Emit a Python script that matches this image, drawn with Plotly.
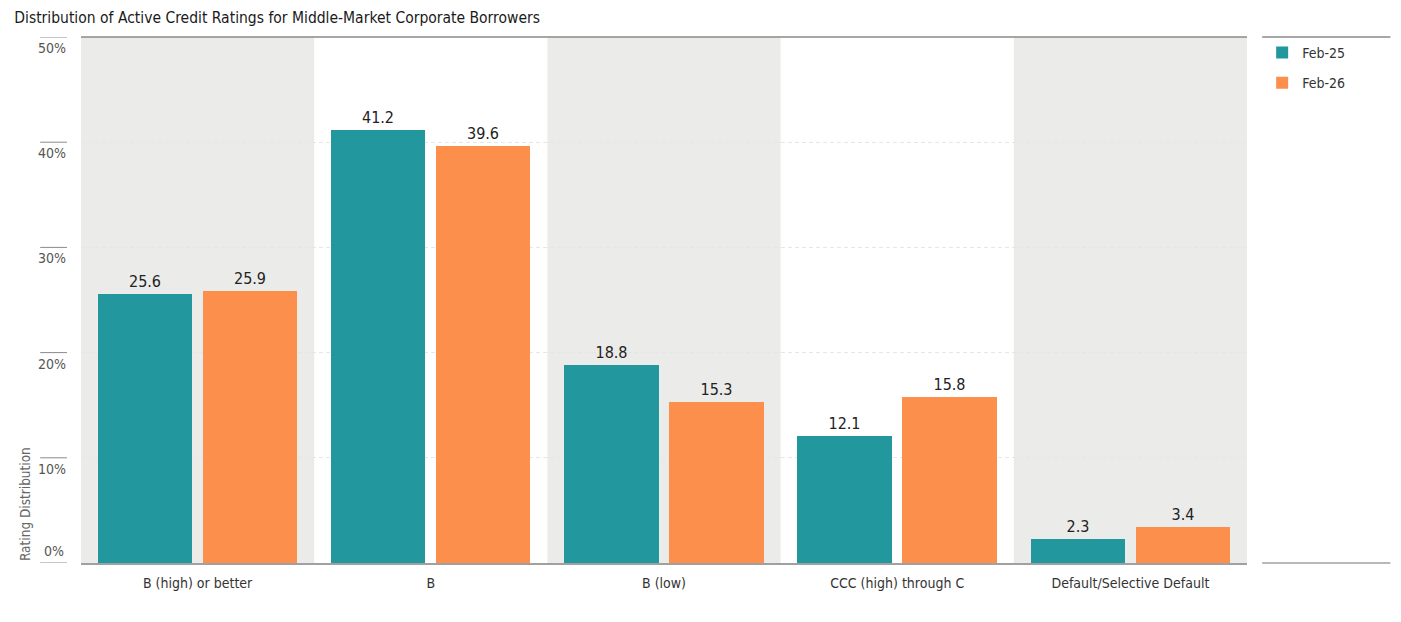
import plotly.graph_objects as go

# data
categories = ["B (high) or better", "B", "B (low)", "CCC (high) through C",
              "Default/Selective Default"]
feb25 = [25.6, 41.2, 18.8, 12.1, 2.3]
feb26 = [25.9, 39.6, 15.3, 15.8, 3.4]
series_names = ["Feb-25", "Feb-26"]
y_ticks = [0, 10, 20, 30, 40, 50]

TEAL = "#23979e"
ORANGE = "#fc8f4c"
BAND = "#ebebea"
FONT = "DejaVu Sans Condensed, Liberation Sans Narrow, sans-serif"

fig = go.Figure()

fig.add_trace(go.Bar(
    x=categories, y=feb25, name=series_names[0], legendgroup="a",
    marker=dict(color=TEAL, line=dict(width=0)),
    width=0.405, offset=-0.428,
    text=[f"{v:.1f}" for v in feb25], textposition="outside",
    textfont=dict(size=16, color="#222222", family=FONT),
    cliponaxis=False,
))
fig.add_trace(go.Bar(
    x=categories, y=feb26, name=series_names[1], legendgroup="b",
    marker=dict(color=ORANGE, line=dict(width=0)),
    width=0.405, offset=0.0225,
    text=[f"{v:.1f}" for v in feb26], textposition="outside",
    textfont=dict(size=16, color="#222222", family=FONT),
    cliponaxis=False,
))

# alternating background bands
shapes = []
for i in range(len(categories)):
    if i % 2 == 0:
        shapes.append(dict(type="rect", xref="x", yref="paper",
                           x0=i - 0.5, x1=i + 0.5, y0=0, y1=1,
                           fillcolor=BAND, line=dict(width=0), layer="between"))

# top rule over plot and legend column
shapes.append(dict(type="line", xref="paper", yref="paper", x0=0, x1=1, y0=1, y1=1,
                   line=dict(color="#8a8a8a", width=1.5)))
shapes.append(dict(type="line", xref="paper", yref="paper", x0=1.013, x1=1.123, y0=1, y1=1,
                   line=dict(color="#8a8a8a", width=1.5)))
shapes.append(dict(type="line", xref="paper", yref="paper", x0=1.013, x1=1.123, y0=0, y1=0,
                   line=dict(color="#a0a0a0", width=1.5)))

# short tick rules at left
for t in y_ticks:
    shapes.append(dict(type="line", xref="paper", yref="y", x0=-0.035, x1=-0.012,
                       y0=t, y1=t, line=dict(color="#8a8a8a", width=1)))

# labels sit under their rule, except 0% which sits above the baseline
tick_text = ["" if t == 0 else f"{t}%" for t in y_ticks]

annotations = [
    dict(text="Rating Distribution", textangle=-90,
         xref="paper", yref="paper", x=-0.048, y=0,
         xanchor="center", yanchor="bottom", showarrow=False,
         font=dict(size=13.5, color="#666666", family=FONT)),
    dict(text=f"{y_ticks[0]}%", xref="paper", yref="y", x=-0.0125, y=y_ticks[0],
         xanchor="right", yanchor="bottom", yshift=2, showarrow=False,
         font=dict(size=14, color="#555555", family=FONT)),
]

# page body adds an 8px offset, so the figure is sized to fit the window
fig.update_layout(
    width=1393, height=614,
    margin=dict(l=73, r=154, t=29, b=59),
    paper_bgcolor="white", plot_bgcolor="white",
    font=dict(family=FONT, size=14, color="#444444"),
    title=dict(text="Distribution of Active Credit Ratings for Middle-Market Corporate Borrowers",
               x=0.0045, xanchor="left", y=0.984, yanchor="middle",
               font=dict(size=15.5, color="#1a1a1a", family=FONT)),
    showlegend=True,
    legend=dict(x=1.013, y=1.0, xanchor="left", yanchor="top",
                font=dict(size=14, color="#333333", family=FONT),
                itemwidth=30, tracegroupgap=9, bgcolor="rgba(0,0,0,0)"),
    shapes=shapes,
    annotations=annotations,
    bargap=0, barmode="group",
)

fig.update_xaxes(
    showgrid=False, showline=True, linecolor="#a0a0a0", linewidth=1.5,
    ticks="", tickfont=dict(size=14, color="#333333"),
    ticklabelstandoff=6,
    range=[-0.5, len(categories) - 0.5],
)
fig.update_yaxes(
    range=[0, 50], tickvals=y_ticks, ticktext=tick_text,
    showgrid=True, gridcolor="#e6e6e6", griddash="4px,3px", gridwidth=1,
    zeroline=False, showline=False, ticks="",
    tickfont=dict(size=14, color="#555555"),
    ticklabelstandoff=14, ticklabelshift=11,
)

fig.write_html("out.html")
